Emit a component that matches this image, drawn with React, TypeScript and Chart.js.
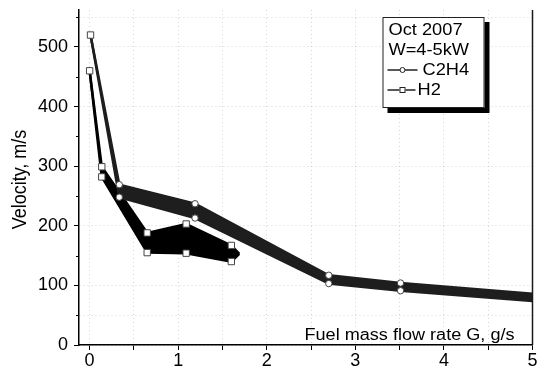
import React, { useEffect, useRef } from 'react';
import { Chart, registerables } from 'chart.js';

Chart.register(...registerables);

// ---- data ----
const c2h4X = [0.01, 0.335, 1.19, 2.7, 3.51, 5.0];
const c2h4Upper = [520, 269, 237, 117, 104, 86];
const c2h4Lower = [520, 248, 213, 103, 91, 74];

const h2X = [0.0, 0.137, 0.65, 1.09, 1.6, 1.69];
const h2Upper = [460, 299, 188, 203, 167, 153];
const h2Lower = [460, 282, 155, 154, 140, 153];

const legendHeader = ['Oct 2007', 'W=4-5kW'];
const seriesNames = ['C2H4', 'H2'];
const xTitle = 'Fuel mass flow rate G, g/s';
const yTitle = 'Velocity, m/s';

const xMin = -0.12;
const xMax = 5;
const yMin = 0;
const yMax = 562;
const xStep = 0.5;
const yStep = 50;
const yLabelEvery = 100;
const yExtraGrid = [50, 550];

const FONT = '"Liberation Sans", Arial, Helvetica, sans-serif';

const toPts = (xs: number[], ys: number[]) => xs.map((x, i) => ({ x, y: ys[i] }));

const drawStretched = (ctx: CanvasRenderingContext2D, text: string, x: number, y: number, sx: number) => {
  ctx.save();
  ctx.translate(x, y);
  ctx.scale(sx, 1);
  ctx.fillText(text, 0, 0);
  ctx.restore();
};

const decorPlugin = {
  id: 'decor',
  afterDraw(chart: any) {
    const { ctx, chartArea: a, scales } = chart;
    ctx.save();
    // right frame line
    ctx.strokeStyle = '#1a1a1a';
    ctx.lineWidth = 1.5;
    ctx.beginPath();
    ctx.moveTo(a.right, a.top);
    ctx.lineTo(a.right, a.bottom);
    ctx.stroke();

    // minor y ticks (shorter)
    const ys = scales.y;
    ctx.strokeStyle = '#000';
    ctx.lineWidth = 1;
    ys.ticks.forEach((t: any) => {
      if (t.value % yLabelEvery !== 0) {
        const py = Math.round(ys.getPixelForValue(t.value)) + 0.5;
        ctx.beginPath();
        ctx.moveTo(a.left - 3, py);
        ctx.lineTo(a.left, py);
        ctx.stroke();
      }
    });

    // y title
    ctx.fillStyle = '#000';
    ctx.font = `18px ${FONT}`;
    ctx.textAlign = 'center';
    ctx.textBaseline = 'middle';
    ctx.save();
    ctx.translate(20, (a.top + a.bottom) / 2 + 2);
    ctx.rotate(-Math.PI / 2);
    ctx.scale(1, 1.12);
    ctx.fillText(yTitle, 0, 0);
    ctx.restore();

    // x title inside plot, bottom right
    ctx.font = `16px ${FONT}`;
    ctx.textAlign = 'left';
    ctx.textBaseline = 'alphabetic';
    const sx = 1.13;
    const w = ctx.measureText(xTitle).width * sx;
    drawStretched(ctx, xTitle, a.right - 18 - w, a.bottom - 5, sx);

    // legend box with shadow
    const bx = a.right - 150;
    const by = a.top + 7;
    const bw = 102;
    const bh = 91;
    ctx.fillStyle = '#000';
    ctx.fillRect(bx + 5, by + 5, bw, bh);
    ctx.fillStyle = '#fff';
    ctx.fillRect(bx, by, bw, bh);
    ctx.strokeStyle = '#222';
    ctx.lineWidth = 1;
    ctx.strokeRect(bx + 0.5, by + 0.5, bw - 1, bh - 1);

    ctx.fillStyle = '#000';
    ctx.font = `16px ${FONT}`;
    ctx.textAlign = 'left';
    drawStretched(ctx, legendHeader[0], bx + 6, by + 18, 1.14);
    drawStretched(ctx, legendHeader[1], bx + 6, by + 38, 1.14);

    // C2H4 entry
    ctx.strokeStyle = '#222';
    ctx.lineWidth = 1.5;
    ctx.beginPath();
    ctx.moveTo(bx + 5, by + 53);
    ctx.lineTo(bx + 35, by + 53);
    ctx.stroke();
    ctx.fillStyle = '#fff';
    ctx.lineWidth = 1;
    ctx.beginPath();
    ctx.arc(bx + 20, by + 53, 2.5, 0, Math.PI * 2);
    ctx.fill();
    ctx.stroke();
    ctx.fillStyle = '#000';
    drawStretched(ctx, seriesNames[0], bx + 40, by + 58, 1.14);

    // H2 entry
    ctx.lineWidth = 1.5;
    ctx.beginPath();
    ctx.moveTo(bx + 5, by + 73);
    ctx.lineTo(bx + 33, by + 73);
    ctx.stroke();
    ctx.fillStyle = '#fff';
    ctx.lineWidth = 1;
    ctx.fillRect(bx + 17, by + 70, 6, 6);
    ctx.strokeRect(bx + 17.5, by + 70.5, 5, 5);
    ctx.fillStyle = '#000';
    drawStretched(ctx, seriesNames[1], bx + 35, by + 78, 1.14);

    ctx.restore();
  },
};

export default function App() {
  const ref = useRef<HTMLCanvasElement | null>(null);

  useEffect(() => {
    if (!ref.current) return;
    const markerBorder = '#444';
    const chart = new Chart(ref.current, {
      type: 'line',
      data: {
        datasets: [
          {
            label: seriesNames[0] + ' upper',
            data: toPts(c2h4X, c2h4Upper),
            borderColor: '#1e1e1e',
            borderWidth: 2.5,
            fill: false,
            tension: 0,
            pointStyle: c2h4X.map((_, i) => (i === 0 ? 'rect' : 'circle')) as any,
            pointRadius: c2h4X.map((_, i) => (i === 0 ? 4.5 : i === c2h4X.length - 1 ? 0 : 3.2)),
            pointBackgroundColor: '#fff',
            pointBorderColor: markerBorder,
            pointBorderWidth: 1,
          },
          {
            label: seriesNames[0] + ' lower',
            data: toPts(c2h4X, c2h4Lower),
            borderColor: '#1e1e1e',
            backgroundColor: '#1e1e1e',
            borderWidth: 2.5,
            fill: '-1',
            tension: 0,
            pointStyle: 'circle',
            pointRadius: c2h4X.map((_, i) => (i === 0 || i === c2h4X.length - 1 ? 0 : 3.2)),
            pointBackgroundColor: '#fff',
            pointBorderColor: markerBorder,
            pointBorderWidth: 1,
          },
          {
            label: seriesNames[1] + ' upper',
            data: toPts(h2X, h2Upper),
            borderColor: '#000',
            borderWidth: 2.5,
            fill: false,
            tension: 0,
            pointStyle: 'rect',
            pointRadius: h2X.map((_, i) => (i === h2X.length - 1 ? 0 : 4.5)),
            pointBackgroundColor: '#fff',
            pointBorderColor: markerBorder,
            pointBorderWidth: 1,
          },
          {
            label: seriesNames[1] + ' lower',
            data: toPts(h2X, h2Lower),
            borderColor: '#000',
            backgroundColor: '#000',
            borderWidth: 2.5,
            fill: '-1',
            tension: 0,
            pointStyle: 'rect',
            pointRadius: h2X.map((_, i) => (i === 0 || i === h2X.length - 1 ? 0 : 4.5)),
            pointBackgroundColor: '#fff',
            pointBorderColor: markerBorder,
            pointBorderWidth: 1,
          },
        ],
      },
      options: {
        responsive: false,
        devicePixelRatio: 1,
        animation: false,
        layout: { padding: { top: 10, right: 3, left: 0, bottom: 0 } },
        plugins: {
          legend: { display: false },
          tooltip: { enabled: false },
        },
        scales: {
          x: {
            type: 'linear',
            min: xMin,
            max: xMax,
            afterFit: (s: any) => {
              s.height = 26;
              s.paddingLeft = 0;
              s.paddingRight = 0;
            },
            ticks: {
              stepSize: xStep,
              includeBounds: false,
              autoSkip: false,
              maxRotation: 0,
              padding: 0,
              color: '#000',
              font: { family: FONT, size: 18 },
              callback: (v: any) => (Math.abs(v - Math.round(v)) < 1e-6 ? String(Math.round(v)) : ''),
            },
            grid: {
              color: 'rgba(0,0,0,0.16)',
              lineWidth: 1,
              tickColor: '#000',
              tickLength: 5,
              tickWidth: 1,
            },
            border: { display: true, color: '#000', width: 1.5, dash: [1, 3] },
          },
          y: {
            type: 'linear',
            min: yMin,
            max: yMax,
            afterFit: (s: any) => {
              s.width = 79;
              s.paddingTop = 0;
              s.paddingBottom = 0;
            },
            ticks: {
              stepSize: yStep,
              includeBounds: false,
              autoSkip: false,
              padding: 6,
              color: '#000',
              font: { family: FONT, size: 18 },
              callback: (v: any) => (v % yLabelEvery === 0 ? String(v) : ''),
            },
            grid: {
              color: (c: any) => {
                const v = c.tick ? c.tick.value : 0;
                return v % yLabelEvery === 0 || yExtraGrid.includes(v) ? 'rgba(0,0,0,0.16)' : 'rgba(0,0,0,0)';
              },
              lineWidth: 1,
              tickColor: (c: any) => {
                const v = c.tick ? c.tick.value : 0;
                return v % yLabelEvery === 0 ? '#000' : 'rgba(0,0,0,0)';
              },
              tickLength: 5,
              tickWidth: 1,
            },
            border: { display: true, color: '#000', width: 1.5, dash: [1, 3] },
          },
        },
      },
      plugins: [decorPlugin],
    } as any);
    return () => chart.destroy();
  }, []);

  return (
    <div style={{ position: 'fixed', left: 0, top: 0, width: 538, height: 371, background: '#fff' }}>
      <canvas ref={ref} width={538} height={371} style={{ display: 'block' }} />
    </div>
  );
}
